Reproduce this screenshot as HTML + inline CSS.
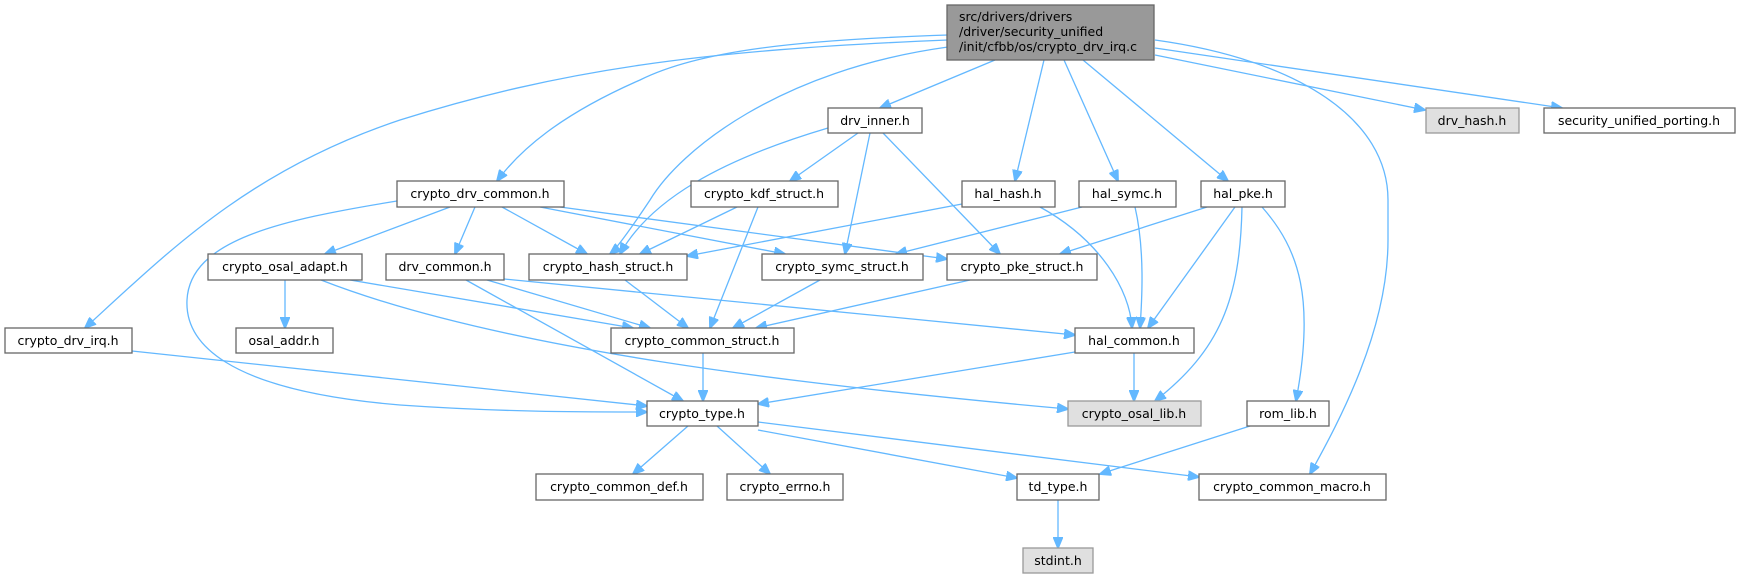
<!DOCTYPE html>
<html><head><meta charset="utf-8"><style>
html,body{margin:0;padding:0;background:#fff;}
svg{display:block;}
text{font-family:"DejaVu Sans","Liberation Sans",sans-serif;font-size:12.5px;fill:#000;}
.b{fill:#fff;stroke:#666;stroke-width:1.3;}
.g{fill:#e0e0e0;stroke:#999;stroke-width:1.3;}
.m{fill:#999;stroke:#666;stroke-width:1.3;}
path{fill:none;stroke:#63b8ff;stroke-width:1.3;}
</style></head><body>
<svg width="1739" height="579" viewBox="0 0 1739 579" xmlns="http://www.w3.org/2000/svg">
<defs><marker id="a" markerUnits="userSpaceOnUse" markerWidth="12" markerHeight="10" refX="11" refY="5" orient="auto"><polygon points="0,0 12,5 0,10" fill="#63b8ff" stroke="#63b8ff"/></marker></defs>
<g marker-end="url(#a)">
<path d="M995,60 L880,108"/>
<path d="M1044,60 L1015,181"/>
<path d="M1064,60 L1118,181"/>
<path d="M1083,60 L1228,181"/>
<path d="M1155,55 L1425,110"/>
<path d="M1155,48 L1562,108"/>
<path d="M1155,40 C1300,60 1388,120 1388,200 L1388,240 C1388,330 1340,420 1310,474"/>
<path d="M948,35 C800,40 700,50 640,80 C560,115 520,150 497,181"/>
<path d="M948,40 C700,50 560,70 400,120 C250,170 170,250 85,328"/>
<path d="M948,47 C780,70 680,150 650,200 C630,230 615,250 610,254"/>
<path d="M828,128 C720,160 650,200 620,254"/>
<path d="M858,133 L790,181"/>
<path d="M870,133 L845,254"/>
<path d="M883,133 L1000,254"/>
<path d="M450,207 L325,254"/>
<path d="M475,207 L455,254"/>
<path d="M502,207 L587,254"/>
<path d="M540,207 L785,254"/>
<path d="M560,207 L947,259"/>
<path d="M397,201 C280,220 190,240 187,300 C185,340 220,390 400,405 C500,412 580,412 647,412"/>
<path d="M737,207 L640,254"/>
<path d="M758,207 L710,328"/>
<path d="M962,204 L687,256"/>
<path d="M1040,207 C1100,240 1130,290 1132,328"/>
<path d="M1082,207 L896,254"/>
<path d="M1135,207 C1145,250 1142,300 1140,328"/>
<path d="M1207,207 L1060,254"/>
<path d="M1235,207 L1148,328"/>
<path d="M1242,207 C1240,300 1220,350 1155,401"/>
<path d="M1262,207 C1300,250 1315,300 1296,401"/>
<path d="M285,280 L285,328"/>
<path d="M350,280 L633,328"/>
<path d="M321,280 C500,350 800,385 1068,409"/>
<path d="M487,280 L650,328"/>
<path d="M466,280 L683,401"/>
<path d="M504,279 L1075,335"/>
<path d="M625,280 L688,328"/>
<path d="M820,280 L733,328"/>
<path d="M970,280 L756,328"/>
<path d="M703,353 L703,401"/>
<path d="M132,351 L647,406"/>
<path d="M1075,352 L758,404"/>
<path d="M1134,353 L1134,401"/>
<path d="M688,426 L633,474"/>
<path d="M717,426 L770,474"/>
<path d="M758,430 L1017,478"/>
<path d="M758,422 L1199,477"/>
<path d="M1250,426 L1100,474"/>
<path d="M1058,500 L1058,548"/>
</g>
<rect class="m" x="947" y="5" width="207" height="55"/>
<text x="959" y="21">src/drivers/drivers</text>
<text x="959" y="36">/driver/security_unified</text>
<text x="959" y="51">/init/cfbb/os/crypto_drv_irq.c</text>
<g text-anchor="middle">
<rect class="b" x="828" y="108" width="94" height="25"/><text x="875" y="125">drv_inner.h</text>
<rect class="g" x="1426" y="108" width="93" height="25"/><text x="1472" y="125">drv_hash.h</text>
<rect class="b" x="1544" y="108" width="191" height="25"/><text x="1639" y="125">security_unified_porting.h</text>
<rect class="b" x="397" y="181" width="167" height="26"/><text x="480" y="198">crypto_drv_common.h</text>
<rect class="b" x="691" y="181" width="147" height="26"/><text x="764" y="198">crypto_kdf_struct.h</text>
<rect class="b" x="962" y="181" width="93" height="26"/><text x="1008" y="198">hal_hash.h</text>
<rect class="b" x="1079" y="181" width="97" height="26"/><text x="1127" y="198">hal_symc.h</text>
<rect class="b" x="1201" y="181" width="84" height="26"/><text x="1243" y="198">hal_pke.h</text>
<rect class="b" x="208" y="254" width="154" height="26"/><text x="285" y="271">crypto_osal_adapt.h</text>
<rect class="b" x="386" y="254" width="118" height="26"/><text x="445" y="271">drv_common.h</text>
<rect class="b" x="529" y="254" width="158" height="26"/><text x="608" y="271">crypto_hash_struct.h</text>
<rect class="b" x="762" y="254" width="161" height="26"/><text x="842" y="271">crypto_symc_struct.h</text>
<rect class="b" x="947" y="254" width="150" height="26"/><text x="1022" y="271">crypto_pke_struct.h</text>
<rect class="b" x="5" y="328" width="127" height="25"/><text x="68" y="345">crypto_drv_irq.h</text>
<rect class="b" x="236" y="328" width="97" height="25"/><text x="284" y="345">osal_addr.h</text>
<rect class="b" x="611" y="328" width="183" height="25"/><text x="702" y="345">crypto_common_struct.h</text>
<rect class="b" x="1075" y="328" width="119" height="25"/><text x="1134" y="345">hal_common.h</text>
<rect class="b" x="647" y="401" width="111" height="25"/><text x="702" y="418">crypto_type.h</text>
<rect class="g" x="1068" y="401" width="133" height="25"/><text x="1134" y="418">crypto_osal_lib.h</text>
<rect class="b" x="1247" y="401" width="82" height="25"/><text x="1288" y="418">rom_lib.h</text>
<rect class="b" x="536" y="474" width="167" height="26"/><text x="619" y="491">crypto_common_def.h</text>
<rect class="b" x="727" y="474" width="116" height="26"/><text x="785" y="491">crypto_errno.h</text>
<rect class="b" x="1017" y="474" width="82" height="26"/><text x="1058" y="491">td_type.h</text>
<rect class="b" x="1199" y="474" width="187" height="26"/><text x="1292" y="491">crypto_common_macro.h</text>
<rect class="g" x="1023" y="548" width="70" height="25"/><text x="1058" y="565">stdint.h</text>
</g>
</svg>
</body></html>
